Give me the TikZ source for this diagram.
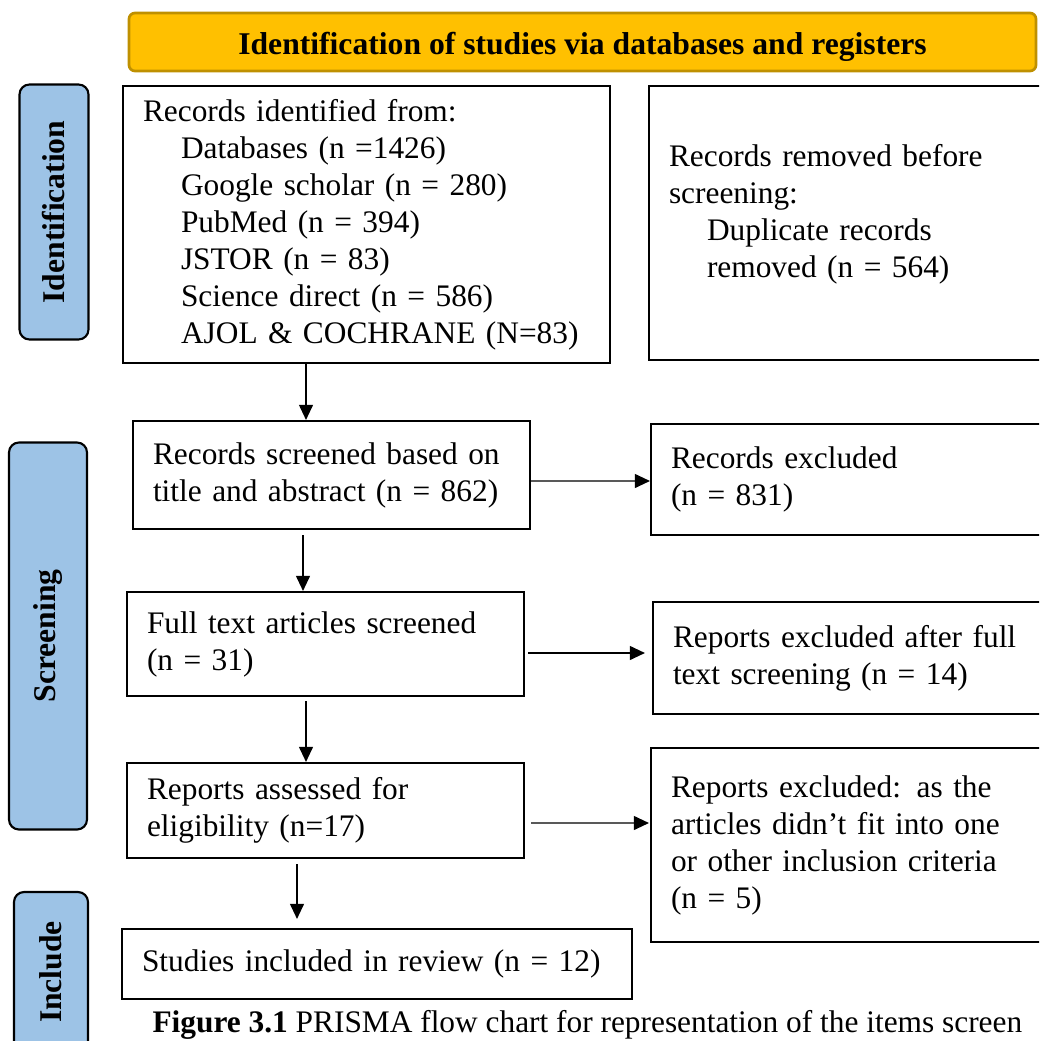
\documentclass[tikz,border=0pt]{standalone}
\usepackage{fontspec}
\setmainfont{Liberation Serif}
\usetikzlibrary{arrows.meta}
\newlength\unitpx
\setlength\unitpx{0.373pt}
\newcommand\flowfont{\fontsize{11.7}{13.8}\selectfont}
\newcommand\labelfont{\fontsize{11.8}{13.8}\selectfont\bfseries}
\newcommand\srcindent{\hspace*{38\unitpx}}
\definecolor{headfill}{HTML}{FFC000}
\definecolor{headedge}{HTML}{BF9000}
\definecolor{sidefill}{HTML}{9DC3E6}

\begin{document}
\begin{tikzpicture}[
   x=\unitpx, y=-\unitpx,
   font=\flowfont,
   box/.style={draw,line width=0.8pt,align=left,inner xsep=20\unitpx,inner ysep=0pt},
   head/.style={draw=headedge,line width=1pt,fill=headfill,rounded corners=6\unitpx,font=\labelfont,text height=12pt,text depth=2.6pt},
   side/.style={draw,line width=0.8pt,fill=sidefill,rounded corners=10\unitpx,rotate=90,inner sep=0pt,font=\labelfont},
   to/.style={-{Triangle[length=5.6pt,width=5.2pt]},line width=0.45pt}]
\useasboundingbox (0,0) rectangle (1039,1041);
\clip (0,0) rectangle (1039,1041);
% banner and phase labels
\node[head,minimum width=907\unitpx,minimum height=58\unitpx] (hd) at (582.5,42) {Identification of studies via databases and registers};
\node[side,minimum width=255\unitpx,minimum height=69\unitpx] (sid) at (54,212) {Identification};
\node[side,minimum width=387\unitpx,minimum height=78\unitpx] (sscr) at (48,636) {Screening};
\node[side,minimum width=160\unitpx,minimum height=74\unitpx] (sinc) at (51,972) {Include};
% left column
\node[box,text width=447\unitpx,minimum height=277\unitpx] (rec) at (366.5,224.5) {Records identified from:\\
\srcindent Databases (n =1426)\\
\srcindent Google scholar (n = 280)\\
\srcindent PubMed (n = 394)\\
\srcindent JSTOR (n = 83)\\
\srcindent Science direct (n = 586)\\
\srcindent AJOL \& COCHRANE (N=83)};
\node[box,text width=357\unitpx,minimum height=108\unitpx] (scr) at (331.5,475) {Records screened based on\\ title and abstract (n = 862)};
\node[box,text width=357\unitpx,minimum height=104\unitpx] (ful) at (325.5,644) {Full text articles screened\\ (n = 31)};
\node[box,text width=357\unitpx,minimum height=95\unitpx] (ass) at (325.5,810.5) {Reports assessed for\\ eligibility (n=17)};
\node[box,text width=470\unitpx,minimum height=70\unitpx] (inc) at (377,964) {Studies included in review (n = 12)};
% right column
\node[box,text width=372\unitpx,minimum height=274\unitpx] (rem) at (855,223) {Records removed before\\ screening:\\
\srcindent Duplicate records\\
\srcindent removed (n = 564)\\[-4.8pt]\mbox{}};
\node[box,text width=369\unitpx,minimum height=111\unitpx] (exc) at (855.5,479.5) {Records excluded\\ (n = 831)};
\node[box,text width=367\unitpx,minimum height=112\unitpx] (aft) at (856.5,658) {Reports excluded after full\\ text screening (n = 14)};
\node[box,text width=369\unitpx,minimum height=194\unitpx] (rx) at (855.5,845) {Reports excluded: as the\\ articles didn’t fit into one\\ or other inclusion criteria\\ (n = 5)};
\node[anchor=west,inner sep=0pt] (cap) at (152,1025) {\textbf{Figure 3.1} PRISMA flow chart for representation of the items screen};
% arrows
\draw[to] ([xshift=-60.5\unitpx]rec.south) -- ([xshift=-25.5\unitpx]scr.north);
\draw[to,shorten <=5\unitpx] ([xshift=-28.5\unitpx]scr.south) -- ([xshift=-22.5\unitpx]ful.north);
\draw[to,shorten <=4\unitpx] ([xshift=-19.5\unitpx]ful.south) -- ([xshift=-19.5\unitpx]ass.north);
\draw[to,shorten <=5\unitpx,shorten >=9\unitpx] ([xshift=-28.5\unitpx]ass.south) -- ([xshift=-80\unitpx]inc.north);
\draw[to] ([yshift=-6\unitpx]scr.east) -- ([yshift=-1.5\unitpx]exc.west);
\draw[to,shorten <=3\unitpx,shorten >=7\unitpx] ([yshift=-9\unitpx]ful.east) -- ([yshift=5\unitpx]aft.west);
\draw[to,shorten <=6\unitpx,shorten >=1\unitpx] ([yshift=-12.5\unitpx]ass.east) -- ([yshift=22\unitpx]rx.west);
\end{tikzpicture}
\end{document}
